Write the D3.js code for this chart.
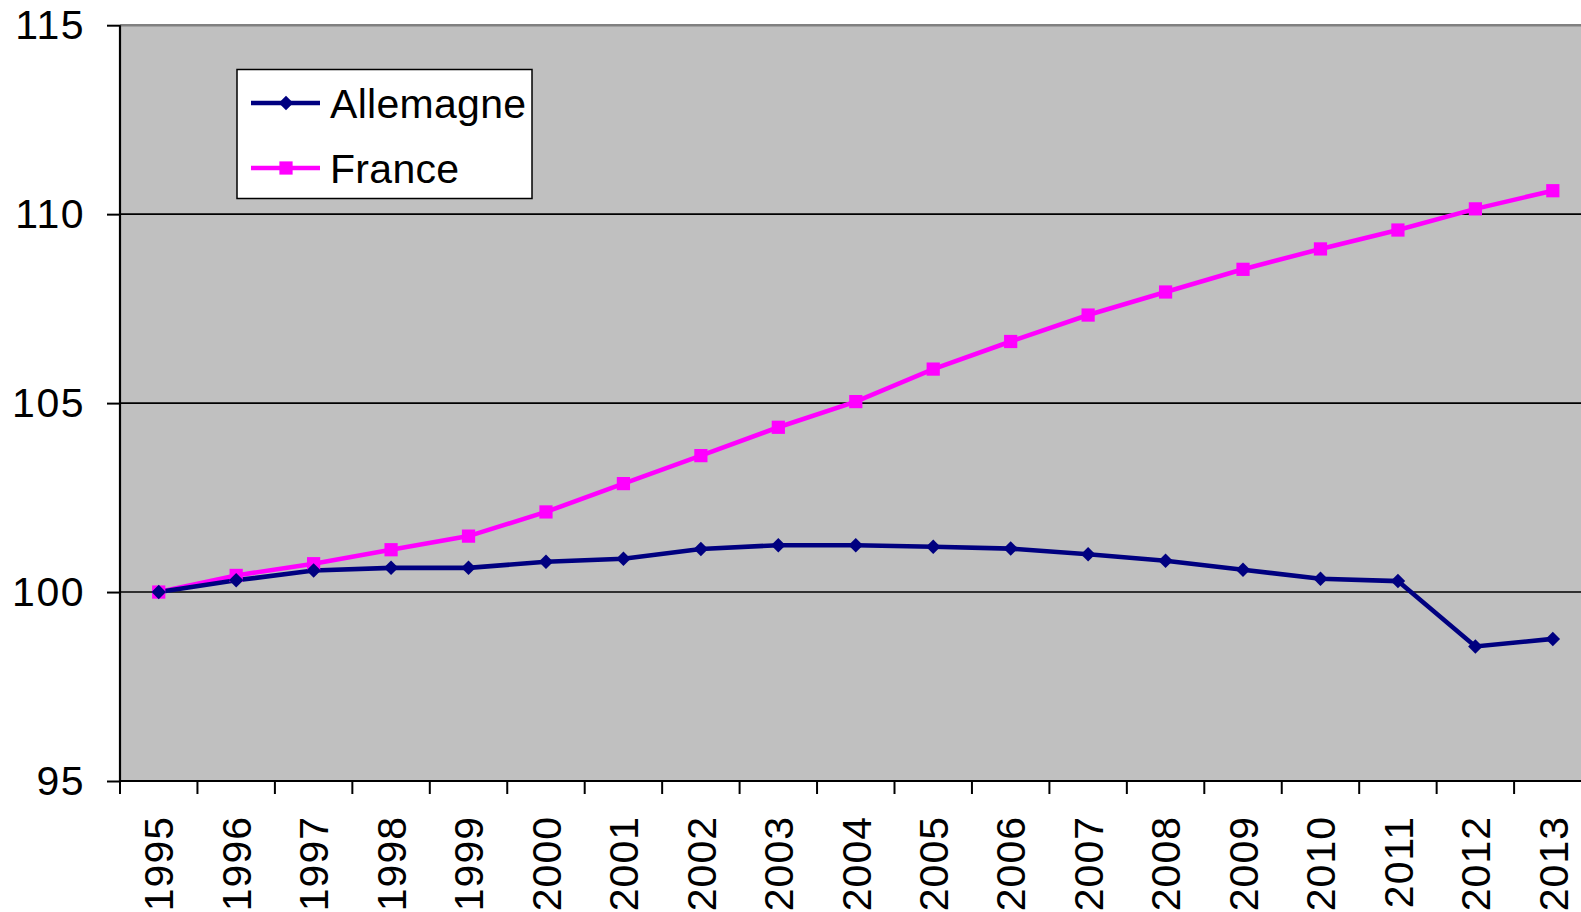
<!DOCTYPE html>
<html>
<head>
<meta charset="utf-8">
<script src="https://cdn.jsdelivr.net/npm/d3@7"></script>
<style>
  html, body { margin: 0; padding: 0; background: #fff; overflow: hidden; }
  svg { display: block; font-family: "Liberation Sans", Arial, sans-serif; }
</style>
</head>
<body>
<svg id="chart" width="1581" height="912"></svg>
<script>
const years = ["1995","1996","1997","1998","1999","2000","2001","2002","2003","2004","2005","2006","2007","2008","2009","2010","2011","2012","2013"];
const allemagne = [100, 100.31, 100.57, 100.64, 100.64, 100.8, 100.88, 101.14, 101.24, 101.24, 101.2, 101.15, 101.0, 100.83, 100.59, 100.35, 100.29, 98.56, 98.76];
const france = [100, 100.44, 100.75, 101.12, 101.48, 102.12, 102.87, 103.61, 104.36, 105.04, 105.9, 106.63, 107.33, 107.94, 108.54, 109.08, 109.58, 110.14, 110.62];
const yTicks = [95, 100, 105, 110, 115];
const seriesNames = ["Allemagne", "France"];

(function () {
const svg = d3.select("#chart");
const plotLeft = 120, plotTop = 25.2, plotBottom = 781;
const x = d3.scaleBand().domain(years).range([plotLeft, plotLeft + 19 * 77.45]).paddingInner(0).paddingOuter(0);
const y = d3.scaleLinear().domain([95, 115]).range([plotBottom, plotTop]);

// plot background
svg.append("rect").attr("x", plotLeft).attr("y", plotTop).attr("width", 1581 - plotLeft).attr("height", plotBottom - plotTop).attr("fill", "#C0C0C0");
// top border
svg.append("line").attr("x1", plotLeft).attr("x2", 1581).attr("y1", plotTop).attr("y2", plotTop).attr("stroke", "#808080").attr("stroke-width", 2.5);

// gridlines
svg.append("g").selectAll("line").data(yTicks.filter(d => d > 95 && d < 115)).join("line")
  .attr("x1", plotLeft).attr("x2", 1581).attr("y1", d => y(d)).attr("y2", d => y(d))
  .attr("stroke", "#000").attr("stroke-width", 1.6);

// y axis
const yAxis = d3.axisLeft(y).tickValues(yTicks).tickSize(13).tickPadding(22).tickFormat(d3.format("d"));
const gy = svg.append("g").attr("transform", `translate(${plotLeft},0)`).call(yAxis);
gy.select(".domain").remove();
gy.selectAll(".tick line").attr("stroke", "#000").attr("stroke-width", 2);
gy.selectAll(".tick text").attr("font-size", 41).attr("fill", "#000").attr("letter-spacing", 1.5).attr("font-family", "Liberation Sans, Arial, sans-serif");
svg.append("line").attr("x1", plotLeft).attr("x2", plotLeft).attr("y1", plotTop).attr("y2", plotBottom + 1).attr("stroke", "#000").attr("stroke-width", 2.2);

// x axis ticks between categories
const bounds = years.map(d => x(d)).concat([x(years[years.length - 1]) + x.bandwidth()]);
svg.append("g").selectAll("line").data(bounds).join("line")
  .attr("x1", d => d).attr("x2", d => d).attr("y1", plotBottom).attr("y2", plotBottom + 13)
  .attr("stroke", "#000").attr("stroke-width", 2);
svg.append("line").attr("x1", plotLeft - 1).attr("x2", 1581).attr("y1", plotBottom).attr("y2", plotBottom).attr("stroke", "#000").attr("stroke-width", 2.2);

// x labels
svg.append("g").selectAll("text").data(years).join("text")
  .attr("transform", d => `translate(${x(d) + x.bandwidth() / 2},816) rotate(-90)`)
  .attr("text-anchor", "end").attr("dy", "0.36em")
  .attr("font-size", 41).attr("letter-spacing", 1).attr("fill", "#000")
  .text(d => d);

// lines
const cx = d => x(d) + x.bandwidth() / 2;
const line = d3.line().x((d, i) => cx(years[i])).y(d => y(d));
svg.append("path").datum(france).attr("d", line).attr("fill", "none").attr("stroke", "#FF00FF").attr("stroke-width", 4.6);
svg.append("path").datum(allemagne).attr("d", line).attr("fill", "none").attr("stroke", "#000080").attr("stroke-width", 4.6);

const diamond = d3.symbol().type(d3.symbolSquare).size(105);
const square = d3.symbol().type(d3.symbolSquare).size(175);

svg.append("g").selectAll("path").data(france).join("path")
  .attr("d", square).attr("transform", (d, i) => `translate(${cx(years[i])},${y(d)})`).attr("fill", "#FF00FF");
svg.append("g").selectAll("path").data(allemagne).join("path")
  .attr("d", diamond).attr("transform", (d, i) => `translate(${cx(years[i])},${y(d)}) rotate(45)`).attr("fill", "#000080");

// legend
const lg = svg.append("g");
lg.append("rect").attr("x", 237).attr("y", 69.5).attr("width", 295).attr("height", 129).attr("fill", "#fff").attr("stroke", "#000").attr("stroke-width", 1.5);
const rows = [
  { name: seriesNames[0], color: "#000080", sym: diamond, rot: 45, yy: 103 },
  { name: seriesNames[1], color: "#FF00FF", sym: square, rot: 0, yy: 168 }
];
rows.forEach(r => {
  lg.append("line").attr("x1", 251).attr("x2", 320).attr("y1", r.yy).attr("y2", r.yy).attr("stroke", r.color).attr("stroke-width", 4.6);
  lg.append("path").attr("d", r.sym).attr("transform", `translate(286,${r.yy}) rotate(${r.rot})`).attr("fill", r.color);
  lg.append("text").attr("x", 330).attr("y", r.yy).attr("dy", "0.36em").attr("font-size", 41).attr("letter-spacing", 0.3).attr("fill", "#000").text(r.name);
});
})();
</script>
</body>
</html>
